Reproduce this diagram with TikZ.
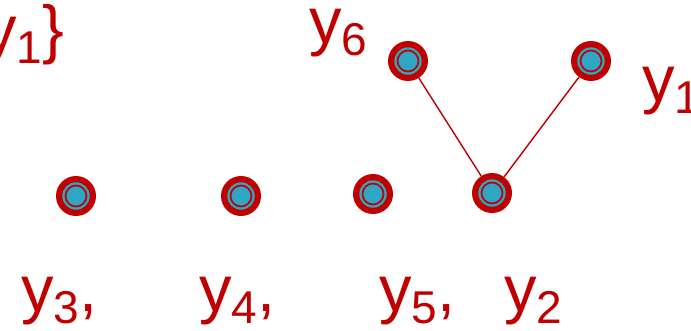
\documentclass[tikz,border=0pt]{standalone}
\usepackage{fontspec}
\setmainfont{Liberation Sans}
\definecolor{dred}{RGB}{192,0,0}
\definecolor{dcyan}{RGB}{46,166,196}
\newcommand{\ylab}[2]{y\smash{\raisebox{-12pt}{\fontsize{46}{46}\selectfont #1}}#2}
\begin{document}
\begin{tikzpicture}[x=1pt,y=-1pt,
  vert/.style={circle,fill=dred,minimum size=40pt,inner sep=0pt,
    path picture={\fill[dcyan] (path picture bounding box.center) circle (13.7pt);
      \draw[dred,line width=1.7pt] (path picture bounding box.center) circle (10.5pt);}},
  lab/.style={anchor=base west,inner sep=0pt,text=dred,font=\fontsize{65}{65}\selectfont},
  edge/.style={dred,line width=1.4pt}]
\useasboundingbox (0,0) rectangle (691,330);
\node[vert] (n3) at (76,196) {};
\node[vert] (n4) at (241,196) {};
\node[vert] (n5) at (373,194) {};
\node[vert] (n2) at (492,193) {};
\node[vert] (n6) at (408,61) {};
\node[vert] (n1) at (591,61) {};
\draw[edge] (n6) -- (n2);
\draw[edge] (n1) -- (n2);
\node[lab] (l3) at (21,311) {\ylab{3}{,}};
\node[lab] (l4) at (199,311) {\ylab{4}{,}};
\node[lab] (l5) at (379,311) {\ylab{5}{,}};
\node[lab] (l2) at (504,311) {\ylab{2}{}};
\node[lab] (l1) at (642,101) {\ylab{1}{}};
\node[lab] (l6) at (309,43) {\ylab{6}{}};
\node[lab] (l0) at (-16,51) {\ylab{1}{\}}};
\end{tikzpicture}
\end{document}
